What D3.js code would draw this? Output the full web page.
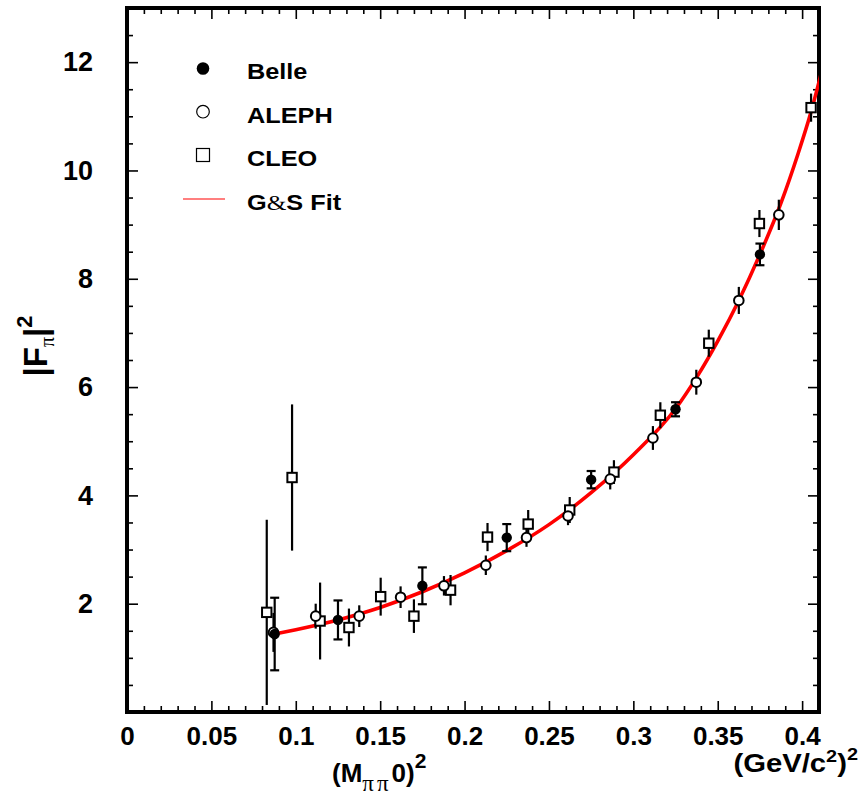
<!DOCTYPE html>
<html>
<head>
<meta charset="utf-8">
<script src="https://cdn.jsdelivr.net/npm/d3@7"></script>
<style>
  body { margin: 0; background: #fff; }
  svg { display: block; }
  text { font-family: "Liberation Sans", Arial, Helvetica, sans-serif; font-weight: bold; fill: #000; }
  .serif { font-family: "Liberation Serif", "Times New Roman", serif; font-weight: normal; }
</style>
</head>
<body>
<svg id="chart" width="861" height="798"></svg>
<script>
// Belle measurements: s = M^2 (GeV^2), |F_pi|^2 and its error
const belleX   = [0.0875, 0.125, 0.175, 0.225, 0.275, 0.325, 0.375];
const belleY   = [1.44, 1.70, 2.33, 3.22, 4.29, 5.59, 8.45];
const belleErr = [0.67, 0.36, 0.34, 0.25, 0.16, 0.13, 0.20];

// ALEPH measurements
const alephX   = [0.0868, 0.1118, 0.1376, 0.1621, 0.1878, 0.2126, 0.2367, 0.2613, 0.2863, 0.3116, 0.3373, 0.3625, 0.3862];
const alephY   = [1.47, 1.77, 1.77, 2.12, 2.33, 2.71, 3.22, 3.62, 4.30, 5.06, 6.09, 7.60, 9.18];
const alephErr = [0.36, 0.23, 0.20, 0.20, 0.18, 0.18, 0.17, 0.17, 0.19, 0.22, 0.23, 0.25, 0.28];

// CLEO measurements
const cleoX   = [0.0828, 0.0978, 0.1144, 0.1315, 0.1503, 0.1700, 0.1917, 0.2136, 0.2377, 0.2623, 0.2885, 0.3160, 0.3447, 0.3747, 0.4053];
const cleoY   = [1.84, 4.33, 1.68, 1.56, 2.13, 1.77, 2.25, 3.23, 3.47, 3.73, 4.43, 5.48, 6.81, 9.02, 11.16];
const cleoErr = [1.71, 1.35, 0.71, 0.35, 0.35, 0.31, 0.28, 0.26, 0.26, 0.24, 0.22, 0.24, 0.25, 0.25, 0.26];

// Gounaris-Sakurai fit curve, sampled
const fitX = [0.0875, 0.100, 0.125, 0.150, 0.175, 0.200, 0.225, 0.250, 0.275, 0.300, 0.325, 0.3375, 0.350, 0.3625, 0.375, 0.3875, 0.3975, 0.405, 0.412];
const fitY = [1.44, 1.52, 1.70, 1.93, 2.22, 2.57, 2.98, 3.46, 4.05, 4.75, 5.60, 6.18, 6.85, 7.60, 8.45, 9.40, 10.30, 11.05, 11.88];

// Axis ticks
const xTicks = [0, 0.05, 0.1, 0.15, 0.2, 0.25, 0.3, 0.35, 0.4];
const yTicks = [2, 4, 6, 8, 10, 12];
const xMinorTicks = d3.range(1, 42).filter(i => i % 5 !== 0).map(i => i / 100);
const yMinorTicks = d3.range(1, 27).filter(i => i % 4 !== 0).map(i => i / 2);

const legendLabels = ["Belle", "ALEPH", "CLEO", "G&S Fit"];

const svg = d3.select("#chart");
const L = 127, R = 819, T = 8, B = 712;
const x = d3.scaleLinear().domain([0, 0.41]).range([L, R]);
const y = d3.scaleLinear().domain([0, 13]).range([B, T]);

function styleAxis(g) {
  g.select(".domain").remove();
  g.selectAll(".tick line").attr("stroke", "#000").attr("stroke-width", 1.6);
}

// bottom axis with labels
svg.append("g").attr("transform", `translate(0,${B})`)
  .call(d3.axisBottom(x).tickValues(xTicks).tickSizeInner(-11).tickSizeOuter(0).tickPadding(15).tickFormat(d => String(d)))
  .call(styleAxis)
  .selectAll("text").attr("font-size", 26).attr("font-family", null);
svg.append("g").attr("transform", `translate(0,${B})`)
  .call(d3.axisBottom(x).tickValues(xMinorTicks).tickSizeInner(-6).tickSizeOuter(0).tickFormat(""))
  .call(styleAxis);
// top axis
svg.append("g").attr("transform", `translate(0,${T})`)
  .call(d3.axisTop(x).tickValues(xTicks).tickSizeInner(-11).tickSizeOuter(0).tickFormat(""))
  .call(styleAxis);
svg.append("g").attr("transform", `translate(0,${T})`)
  .call(d3.axisTop(x).tickValues(xMinorTicks).tickSizeInner(-6).tickSizeOuter(0).tickFormat(""))
  .call(styleAxis);
// left axis with labels
svg.append("g").attr("transform", `translate(${L},0)`)
  .call(d3.axisLeft(y).tickValues(yTicks).tickSizeInner(-11).tickSizeOuter(0).tickPadding(34).tickFormat(d => String(d)))
  .call(styleAxis)
  .selectAll("text").attr("font-size", 27).attr("font-family", null);
svg.append("g").attr("transform", `translate(${L},0)`)
  .call(d3.axisLeft(y).tickValues(yMinorTicks).tickSizeInner(-6).tickSizeOuter(0).tickFormat(""))
  .call(styleAxis);
// right axis
svg.append("g").attr("transform", `translate(${R},0)`)
  .call(d3.axisRight(y).tickValues(yTicks).tickSizeInner(-11).tickSizeOuter(0).tickFormat(""))
  .call(styleAxis);
svg.append("g").attr("transform", `translate(${R},0)`)
  .call(d3.axisRight(y).tickValues(yMinorTicks).tickSizeInner(-6).tickSizeOuter(0).tickFormat(""))
  .call(styleAxis);

// frame
svg.append("rect").attr("x", L).attr("y", T).attr("width", R - L).attr("height", B - T)
  .attr("fill", "none").attr("stroke", "#000").attr("stroke-width", 4);

// clip region for the fit
svg.append("clipPath").attr("id", "plotClip")
  .append("rect").attr("x", L).attr("y", T).attr("width", R - L).attr("height", B - T);

// fit curve
const fitData = fitX.map((v, i) => [v, fitY[i]]);
svg.append("path").datum(fitData)
  .attr("clip-path", "url(#plotClip)")
  .attr("fill", "none").attr("stroke", "#ff0000").attr("stroke-width", 3.6)
  .attr("d", d3.line().x(d => x(d[0])).y(d => y(d[1])).curve(d3.curveMonotoneX));

const gData = svg.append("g");

function errorBars(xs, ys, es, capped) {
  const pts = xs.map((v, i) => ({ x: v, y: ys[i], e: es[i] }));
  gData.append("g").selectAll("line").data(pts).join("line")
    .attr("x1", d => x(d.x)).attr("x2", d => x(d.x))
    .attr("y1", d => y(d.y + d.e)).attr("y2", d => Math.min(y(d.y - d.e), B))
    .attr("stroke", "#000").attr("stroke-width", 2.2);
  if (capped) {
    ["+", "-"].forEach(sgn => {
      gData.append("g").selectAll("line").data(pts).join("line")
        .attr("x1", d => x(d.x) - 4.5).attr("x2", d => x(d.x) + 4.5)
        .attr("y1", d => y(sgn === "+" ? d.y + d.e : d.y - d.e))
        .attr("y2", d => y(sgn === "+" ? d.y + d.e : d.y - d.e))
        .attr("stroke", "#000").attr("stroke-width", 2.2);
    });
  }
  return pts;
}

const cleoPts = errorBars(cleoX, cleoY, cleoErr, false);
const alephPts = errorBars(alephX, alephY, alephErr, false);
const bellePts = errorBars(belleX, belleY, belleErr, true);

// CLEO open squares
gData.append("g").selectAll("rect").data(cleoPts).join("rect")
  .attr("x", d => x(d.x) - 4.7).attr("y", d => y(d.y) - 4.7)
  .attr("width", 9.4).attr("height", 9.4)
  .attr("fill", "#fff").attr("stroke", "#000").attr("stroke-width", 2);
// ALEPH open circles
gData.append("g").selectAll("circle").data(alephPts).join("circle")
  .attr("cx", d => x(d.x)).attr("cy", d => y(d.y)).attr("r", 4.8)
  .attr("fill", "#fff").attr("stroke", "#000").attr("stroke-width", 2);
// Belle filled circles
gData.append("g").selectAll("circle").data(bellePts).join("circle")
  .attr("cx", d => x(d.x)).attr("cy", d => y(d.y)).attr("r", 5.2)
  .attr("fill", "#000");

// legend
const leg = svg.append("g");
const legRows = [68.5, 111.7, 155, 199];
leg.append("circle").attr("cx", 203).attr("cy", legRows[0]).attr("r", 6.3).attr("fill", "#000");
leg.append("circle").attr("cx", 203).attr("cy", legRows[1]).attr("r", 6.3).attr("fill", "#fff").attr("stroke", "#000").attr("stroke-width", 1.2);
leg.append("rect").attr("x", 196.5).attr("y", legRows[2] - 6.5).attr("width", 13).attr("height", 13).attr("fill", "#fff").attr("stroke", "#000").attr("stroke-width", 1.2);
leg.append("line").attr("x1", 183).attr("x2", 225).attr("y1", legRows[3]).attr("y2", legRows[3]).attr("stroke", "#ff0000").attr("stroke-width", 1.2);
legendLabels.forEach((lab, i) => {
  const t = leg.append("text")
    .attr("transform", `translate(247,${legRows[i] + 10.8}) scale(1.15,1)`)
    .attr("font-size", 22);
  if (lab.includes("&")) {
    const parts = lab.split("&");
    t.append("tspan").text(parts[0]);
    t.append("tspan").attr("class", "serif").text("&");
    t.append("tspan").text(parts[1]);
  } else {
    t.text(lab);
  }
});

// y axis title |F_pi|^2
const yt = svg.append("text").attr("transform", "translate(47,346) rotate(-90)")
  .attr("text-anchor", "middle").attr("font-size", 33);
yt.append("tspan").text("|F");
yt.append("tspan").attr("class", "serif").attr("font-size", 20).attr("dy", 7).text("π");
yt.append("tspan").attr("dy", -7).text("|");
yt.append("tspan").attr("font-size", 22).attr("dy", -15).text("2");

// x axis title (M_pipi0)^2
const xt = svg.append("text").attr("x", 332).attr("y", 782).attr("font-size", 26);
xt.append("tspan").text("(M");
xt.append("tspan").attr("class", "serif").attr("font-size", 23).attr("letter-spacing", 3).attr("dy", 9).text("ππ");
xt.append("tspan").attr("dy", -9).text("0)");
xt.append("tspan").attr("font-size", 21).attr("dy", -14).text("2");

// units
const ut = svg.append("text").attr("transform", "translate(858,772) scale(1.17,1)")
  .attr("text-anchor", "end").attr("font-size", 25);
ut.append("tspan").text("(GeV/c");
ut.append("tspan").attr("font-size", 17).attr("dy", -10).text("2");
ut.append("tspan").attr("dy", 10).text(")");
ut.append("tspan").attr("font-size", 17).attr("dy", -12).text("2");
</script>
</body>
</html>
